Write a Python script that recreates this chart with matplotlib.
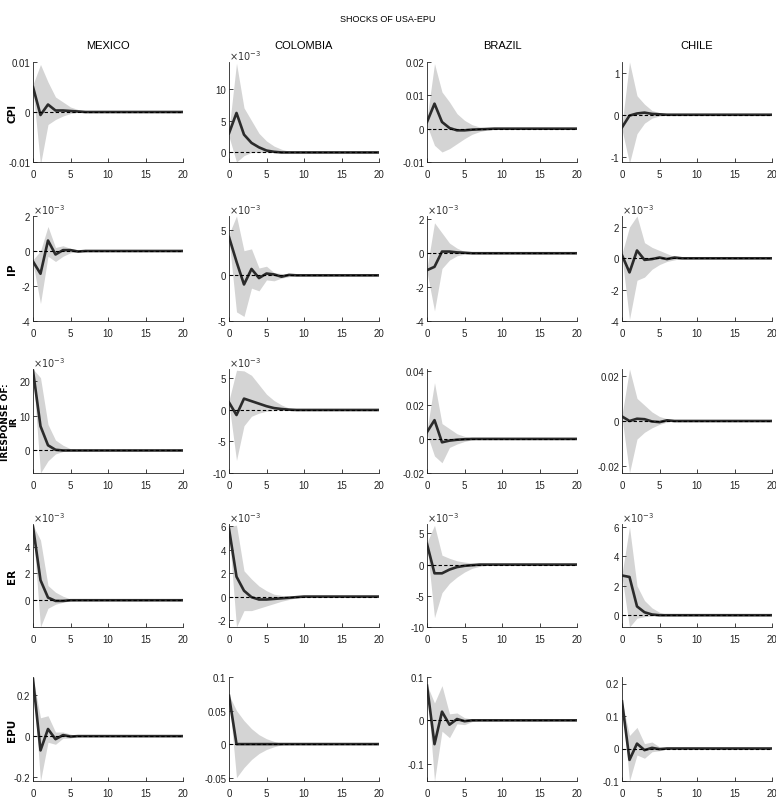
import numpy as np
import matplotlib
matplotlib.use("Agg")
import matplotlib.pyplot as plt
from matplotlib.ticker import FuncFormatter
from matplotlib import font_manager

avail = {f.name for f in font_manager.fontManager.ttflist}
fam = [f for f in ["Liberation Sans Narrow", "Liberation Sans", "DejaVu Sans"] if f in avail]
plt.rcParams['font.family'] = fam

N = 21
horizon = np.arange(N)

countries = ["MEXICO", "COLOMBIA", "BRAZIL", "CHILE"]
variables = ["CPI", "IP", "IR", "ER", "EPU"]
title = "SHOCKS OF USA-EPU"


def pad(v):
    v = list(v)
    return np.array(v + [0.0] * (N - len(v)))

# ---------------- CPI ----------------
mexico_cpi_irf = pad([0.005, -0.0006, 0.0015, 0.0003, 0.0003, 0.0002, 0.0001])
mexico_cpi_lo = pad([0.0045, -0.0105, -0.0025, -0.0015, -0.0008, -0.0003, -0.0001])
mexico_cpi_hi = pad([0.0055, 0.0095, 0.006, 0.003, 0.002, 0.001, 0.0005, 0.0002])

colombia_cpi_irf = pad(np.array([3.0, 6.2, 2.8, 1.5, 0.8, 0.3, 0.1]) * 1e-3)
colombia_cpi_lo = pad(np.array([2.5, -1.5, -0.5, 0.0, 0.0, 0.0]) * 1e-3)
colombia_cpi_hi = pad(np.array([3.5, 14.0, 7.0, 5.0, 3.0, 1.8, 1.0, 0.5, 0.2, 0.05]) * 1e-3)

brazil_cpi_irf = pad([0.002, 0.0075, 0.002, 0.0002, -0.0005, -0.0005, -0.0003, -0.0002, -0.0001])
brazil_cpi_lo = pad([0.001, -0.005, -0.007, -0.006, -0.0045, -0.003, -0.0017, -0.0009, -0.0004, -0.0001])
brazil_cpi_hi = pad([0.003, 0.0195, 0.011, 0.008, 0.0045, 0.0025, 0.0012, 0.0005, 0.0002])

chile_cpi_irf = pad([-0.3, -0.02, 0.03, 0.05, 0.02, 0.01])
chile_cpi_lo = pad([-0.35, -1.15, -0.45, -0.2, -0.08, -0.03])
chile_cpi_hi = pad([-0.25, 1.25, 0.45, 0.25, 0.1, 0.05])

# ---------------- IP ----------------
mexico_ip_irf = pad(np.array([-0.6, -1.3, 0.6, -0.2, 0.05, 0.05, -0.03]) * 1e-3)
mexico_ip_lo = pad(np.array([-0.7, -3.0, -0.3, -0.6, -0.3, -0.1, -0.05]) * 1e-3)
mexico_ip_hi = pad(np.array([-0.5, 0.0, 1.4, 0.2, 0.3, 0.15, 0.05]) * 1e-3)

colombia_ip_irf = pad(np.array([4.2, 1.5, -1.0, 0.7, -0.3, 0.2, 0.1, -0.15, 0.05]) * 1e-3)
colombia_ip_lo = pad(np.array([4.0, -4.0, -4.5, -1.4, -1.7, -0.5, -0.6, -0.3, -0.15]) * 1e-3)
colombia_ip_hi = pad(np.array([4.5, 6.5, 2.7, 2.9, 0.8, 1.0, 0.3, 0.2, 0.2, 0.05]) * 1e-3)

brazil_ip_irf = pad(np.array([-1.0, -0.8, 0.1, 0.1, 0.05, 0.03]) * 1e-3)
brazil_ip_lo = pad(np.array([-1.1, -3.4, -0.9, -0.4, -0.15, -0.05]) * 1e-3)
brazil_ip_hi = pad(np.array([-0.9, 1.8, 1.2, 0.6, 0.3, 0.1]) * 1e-3)

chile_ip_irf = pad(np.array([0.2, -0.9, 0.5, -0.1, -0.05, 0.05, -0.05, 0.05]) * 1e-3)
chile_ip_lo = pad(np.array([0.1, -3.9, -1.4, -1.2, -0.7, -0.4, -0.2, -0.1]) * 1e-3)
chile_ip_hi = pad(np.array([0.3, 2.0, 2.7, 1.0, 0.7, 0.5, 0.3, 0.1]) * 1e-3)

# ---------------- IR ----------------
mexico_ir_irf = pad(np.array([23.0, 7.0, 1.5, 0.2]) * 1e-3)
mexico_ir_lo = pad(np.array([22.5, -6.5, -3.0, -1.0, -0.3, -0.1]) * 1e-3)
mexico_ir_hi = pad(np.array([23.5, 21.0, 7.5, 3.0, 1.5, 0.5, 0.1]) * 1e-3)

colombia_ir_irf = pad(np.array([1.2, -0.8, 1.8, 1.4, 1.0, 0.6, 0.3, 0.15, 0.05]) * 1e-3)
colombia_ir_lo = pad(np.array([1.0, -8.0, -2.5, -1.0, -0.5, -0.2, -0.1]) * 1e-3)
colombia_ir_hi = pad(np.array([1.5, 6.3, 6.2, 5.5, 4.0, 2.5, 1.5, 0.8, 0.3, 0.1]) * 1e-3)

brazil_ir_irf = pad([0.004, 0.011, -0.002, -0.001, -0.0005, -0.0002])
brazil_ir_lo = pad([0.003, -0.01, -0.014, -0.005, -0.003, -0.0015, -0.0005])
brazil_ir_hi = pad([0.005, 0.033, 0.009, 0.006, 0.003, 0.0015, 0.0005])

chile_ir_irf = pad([0.002, 0.0, 0.001, 0.0008, -0.0002, -0.0005, 0.0003])
chile_ir_lo = pad([0.0015, -0.023, -0.008, -0.005, -0.003, -0.0015, -0.0005])
chile_ir_hi = pad([0.0025, 0.023, 0.01, 0.007, 0.004, 0.002, 0.001])

# ---------------- ER ----------------
mexico_er_irf = pad(np.array([5.5, 1.5, 0.2, -0.05, -0.05]) * 1e-3)
mexico_er_lo = pad(np.array([5.4, -2.0, -0.6, -0.3, -0.15, -0.05]) * 1e-3)
mexico_er_hi = pad(np.array([5.6, 4.5, 1.1, 0.6, 0.3, 0.1]) * 1e-3)

colombia_er_irf = pad(np.array([5.8, 1.7, 0.5, -0.05, -0.25, -0.25, -0.2, -0.15, -0.1, -0.05]) * 1e-3)
colombia_er_lo = pad(np.array([5.6, -2.6, -1.2, -1.2, -1.0, -0.8, -0.6, -0.4, -0.25, -0.1]) * 1e-3)
colombia_er_hi = pad(np.array([6.0, 6.1, 2.2, 1.5, 0.9, 0.5, 0.2, 0.1]) * 1e-3)

brazil_er_irf = pad(np.array([3.3, -1.4, -1.4, -0.8, -0.4, -0.2, -0.1]) * 1e-3)
brazil_er_lo = pad(np.array([3.1, -8.5, -4.5, -3.0, -2.0, -1.2, -0.6, -0.3, -0.1]) * 1e-3)
brazil_er_hi = pad(np.array([3.5, 6.3, 1.5, 1.0, 0.6, 0.4, 0.25, 0.15, 0.05]) * 1e-3)

chile_er_irf = pad(np.array([2.7, 2.6, 0.6, 0.2, 0.05]) * 1e-3)
chile_er_lo = pad(np.array([2.6, -0.8, -0.2, -0.1, -0.05]) * 1e-3)
chile_er_hi = pad(np.array([2.8, 6.0, 2.0, 1.0, 0.5, 0.2, 0.05]) * 1e-3)

# ---------------- EPU ----------------
mexico_epu_irf = pad([0.28, -0.07, 0.035, -0.015, 0.005, -0.002])
mexico_epu_lo = pad([0.275, -0.22, -0.03, -0.04, -0.01, -0.01])
mexico_epu_hi = pad([0.285, 0.09, 0.1, 0.02, 0.02, 0.01])

colombia_epu_irf = pad([0.072, 0.0, 0.0])
colombia_epu_lo = pad([0.071, -0.05, -0.035, -0.023, -0.014, -0.008, -0.004, -0.001])
colombia_epu_hi = pad([0.073, 0.05, 0.035, 0.023, 0.014, 0.008, 0.004, 0.001])

brazil_epu_irf = pad([0.08, -0.055, 0.02, -0.01, 0.003, -0.002])
brazil_epu_lo = pad([0.078, -0.14, -0.025, -0.04, -0.008, -0.01, -0.003])
brazil_epu_hi = pad([0.082, 0.04, 0.08, 0.015, 0.017, 0.006, 0.003])

chile_epu_irf = pad([0.145, -0.035, 0.015, -0.005, 0.002, -0.002])
chile_epu_lo = pad([0.143, -0.1, -0.02, -0.03, -0.01, -0.007])
chile_epu_hi = pad([0.147, 0.04, 0.065, 0.015, 0.02, 0.005, 0.003])

# y-axis limits / ticks per panel (row: variable, col: country)
ylims = [
    [(-0.01, 0.01), (-1.5e-3, 14.2e-3), (-0.01, 0.02), (-1.12, 1.25)],
    [(-4e-3, 2e-3), (-5e-3, 6.5e-3), (-4e-3, 2.2e-3), (-4e-3, 2.7e-3)],
    [(-6.5e-3, 23.5e-3), (-10e-3, 6.5e-3), (-0.02, 0.041), (-0.023, 0.023)],
    [(-2e-3, 5.7e-3), (-2.6e-3, 6.2e-3), (-10e-3, 6.5e-3), (-0.8e-3, 6.2e-3)],
    [(-0.22, 0.29), (-0.055, 0.1), (-0.14, 0.1), (-0.1, 0.22)],
]
yticks = [
    [[-0.01, 0, 0.01], [0, 5e-3, 10e-3], [-0.01, 0, 0.01, 0.02], [-1, 0, 1]],
    [[-4e-3, -2e-3, 0, 2e-3], [-5e-3, 0, 5e-3], [-4e-3, -2e-3, 0, 2e-3], [-4e-3, -2e-3, 0, 2e-3]],
    [[0, 10e-3, 20e-3], [-10e-3, -5e-3, 0, 5e-3], [-0.02, 0, 0.02, 0.04], [-0.02, 0, 0.02]],
    [[0, 2e-3, 4e-3], [-2e-3, 0, 2e-3, 4e-3, 6e-3], [-10e-3, -5e-3, 0, 5e-3], [0, 2e-3, 4e-3, 6e-3]],
    [[-0.2, 0, 0.2], [-0.05, 0, 0.05, 0.1], [-0.1, 0, 0.1], [-0.1, 0, 0.1, 0.2]],
]
scaled = [
    [False, True, False, False],
    [True, True, True, True],
    [True, True, False, False],
    [True, True, True, True],
    [False, False, False, False],
]
xticks = [0, 5, 10, 15, 20]

data = {}
g = globals()
for c in countries:
    for v in variables:
        key = f"{c.lower()}_{v.lower()}"
        data[(c, v)] = (g[key + "_irf"], g[key + "_lo"], g[key + "_hi"])

W, H = 776, 803
fig = plt.figure(figsize=(W / 100, H / 100), dpi=100)

col_left = [33, 229, 427, 622]
col_w = 150
row_top = [63, 217, 370, 525, 678]
row_bot = [163, 322, 474, 628, 782]

band_color = "#d4d4d4"
line_color = "#2b2b2b"

for r, v in enumerate(variables):
    for ci, c in enumerate(countries):
        x0 = col_left[ci] / W
        y0 = 1 - row_bot[r] / H
        ax = fig.add_axes([x0, y0, col_w / W, (row_bot[r] - row_top[r]) / H])
        irf, lo, hi = data[(c, v)]
        ax.fill_between(horizon, lo, hi, color=band_color, linewidth=0)
        ax.plot(horizon, irf, color=line_color, lw=1.9)
        ax.axhline(0, color="black", lw=0.8, ls=(0, (3, 2)))
        ax.set_xlim(0, 20)
        ax.set_ylim(*ylims[r][ci])
        ax.set_xticks(xticks)
        ax.set_yticks(yticks[r][ci])
        if scaled[r][ci]:
            ax.yaxis.set_major_formatter(FuncFormatter(lambda val, p: "%g" % round(val * 1e3, 6)))
            ax.text(0.0, 1.0, r"$\times10^{-3}$", transform=ax.transAxes, ha="left", va="bottom",
                    fontsize=7, color="#333333")
        else:
            ax.yaxis.set_major_formatter(FuncFormatter(lambda val, p: "%g" % round(val, 6)))
        for s in ["top", "right"]:
            ax.spines[s].set_visible(False)
        for s in ["left", "bottom"]:
            ax.spines[s].set_linewidth(0.6)
            ax.spines[s].set_color("#222222")
        ax.tick_params(direction="in", length=3, width=0.6, labelsize=7, colors="#222222")
        ax.tick_params(axis="y", pad=2)
        ax.tick_params(axis="x", pad=5)
        ax.set_facecolor("white")
        if r == 0:
            ax.set_title(c, fontsize=8, pad=10)

fig.text(0.5, 1 - 20 / H, title, ha="center", va="center", fontsize=6.5)

row_label = ["CPI", "IP", "IRESPONSE OF:\nIR", "ER", "EPU"]
for r, lab in enumerate(row_label):
    yc = 1 - (row_top[r] + row_bot[r]) / 2 / H
    two = "\n" in lab
    xpos = 9.5 if two else 12
    fig.text(xpos / W, yc, lab, rotation=90, ha="center", va="center",
             fontsize=6.5 if two else 7.5,
             fontweight="bold", multialignment="center", linespacing=0.95,
             family=["DejaVu Sans"])

fig.savefig("out.png", dpi=100, facecolor="white")
